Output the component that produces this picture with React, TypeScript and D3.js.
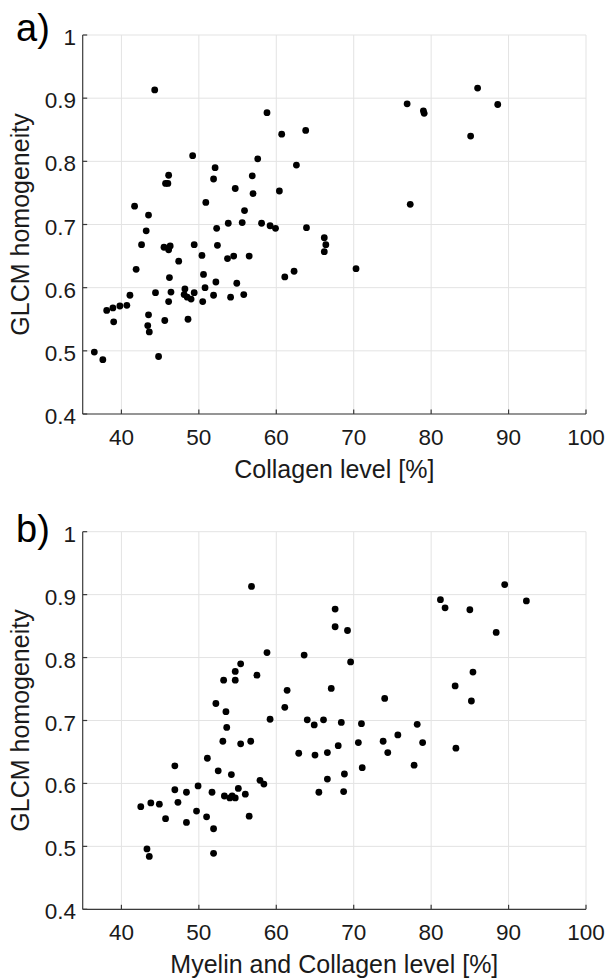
import React from 'react';
import * as d3 from 'd3';

// panel a: collagen level vs GLCM homogeneity
const collagenLevel = [
  44.3, 58.8, 60.7, 63.8, 49.2, 57.6, 62.6, 52.1, 46.1, 51.9, 56.9, 45.7, 46.0, 54.7,
  60.4, 57.0, 41.7, 50.9, 43.5, 55.9, 43.2, 53.8, 55.6, 58.1, 59.2, 59.9, 63.9, 52.3,
  42.6, 45.5, 46.3, 46.1, 49.4, 52.4, 47.4, 50.4, 53.7, 54.5, 56.5, 41.9, 46.2, 50.6,
  52.2, 54.9, 61.1, 62.3, 50.8, 41.1, 44.4, 46.4, 48.2, 48.1, 48.5, 49.0, 49.4, 51.9,
  54.1, 55.8, 50.5, 46.1, 38.1, 38.9, 39.8, 40.7, 39.0, 43.5, 43.4, 43.6, 45.6, 48.6,
  36.5, 37.6, 44.8, 66.2, 66.4, 66.2, 70.3, 76.9, 79.0, 79.1, 86.0, 88.6, 85.1, 77.3,
];
const homogeneityA = [
  0.913, 0.877, 0.843, 0.849, 0.809, 0.804, 0.794, 0.79, 0.778, 0.772, 0.777, 0.765, 0.765, 0.757,
  0.753, 0.749, 0.729, 0.735, 0.715, 0.722, 0.69, 0.702, 0.703, 0.702, 0.698, 0.694, 0.695, 0.694,
  0.668, 0.664, 0.666, 0.66, 0.668, 0.667, 0.642, 0.651, 0.646, 0.65, 0.65, 0.629, 0.616, 0.621,
  0.609, 0.607, 0.617, 0.626, 0.6, 0.588, 0.592, 0.593, 0.598, 0.589, 0.585, 0.582, 0.592, 0.588,
  0.585, 0.589, 0.578, 0.578, 0.564, 0.568, 0.571, 0.572, 0.546, 0.557, 0.54, 0.53, 0.548, 0.55,
  0.498, 0.486, 0.491, 0.679, 0.668, 0.657, 0.63, 0.891, 0.88, 0.876, 0.916, 0.89, 0.84, 0.732,
];

// panel b: myelin + collagen level vs GLCM homogeneity
const myelinCollagenLevel = [
  56.8, 58.8, 63.6, 55.4, 54.7, 53.2, 54.7, 57.5, 61.4, 61.1, 52.2, 53.5, 59.2, 64.0,
  64.9, 66.1, 53.6, 53.1, 55.4, 56.7, 62.9, 65.0, 66.6, 51.1, 46.9, 52.5, 54.2, 57.9,
  58.4, 66.6, 49.9, 46.9, 48.4, 51.7, 55.1, 56.0, 53.3, 54.0, 54.3, 54.7, 65.5, 42.5,
  43.8, 44.9, 47.3, 45.7, 48.4, 49.7, 51.0, 51.9, 56.5, 43.3, 43.6, 51.9, 89.5, 92.3,
  81.2, 81.8, 85.0, 88.4, 67.6, 67.6, 69.2, 69.6, 85.4, 83.1, 85.2, 74.0, 67.1, 68.4,
  71.0, 78.2, 75.7, 68.0, 70.6, 73.8, 78.9, 74.4, 83.2, 71.1, 77.8, 68.8, 68.7,
];
const homogeneityB = [
  0.913, 0.808, 0.804, 0.79, 0.778, 0.764, 0.764, 0.772, 0.748, 0.721, 0.727, 0.714, 0.702, 0.701,
  0.693, 0.701, 0.689, 0.667, 0.663, 0.667, 0.648, 0.645, 0.649, 0.64, 0.628, 0.62, 0.614, 0.605,
  0.599, 0.607, 0.596, 0.59, 0.586, 0.586, 0.592, 0.583, 0.58, 0.577, 0.58, 0.577, 0.586, 0.563,
  0.569, 0.567, 0.57, 0.544, 0.538, 0.556, 0.547, 0.528, 0.548, 0.496, 0.484, 0.489, 0.916, 0.89,
  0.892, 0.879, 0.876, 0.84, 0.877, 0.849, 0.843, 0.793, 0.777, 0.755, 0.731, 0.735, 0.751, 0.697,
  0.695, 0.694, 0.677, 0.66, 0.665, 0.667, 0.665, 0.649, 0.656, 0.625, 0.629, 0.615, 0.587,
];

const xTicks = [40, 50, 60, 70, 80, 90, 100];
const yTicks = [0.4, 0.5, 0.6, 0.7, 0.8, 0.9, 1];

const FONT = '"Liberation Sans", Arial, Helvetica, sans-serif';
const LEFT = 82.7;
const RIGHT = 586;
const TEXT = '#1a1a1a';

type PanelProps = {
  tag: string;
  tagY: number;
  xs: number[];
  ys: number[];
  top: number;
  bottom: number;
  xLabel: string;
};

const Panel = ({ tag, tagY, xs, ys, top, bottom, xLabel }: PanelProps) => {
  const x = d3.scaleLinear().domain([35, 100]).range([LEFT, RIGHT]);
  const y = d3.scaleLinear().domain([0.4, 1]).range([bottom, top]);
  const fmt = d3.format('~g');

  return (
    <g>
      {/* grid */}
      {xTicks.map((t) => (
        <line key={'gx' + t} x1={x(t)} x2={x(t)} y1={top} y2={bottom} stroke="#e3e3e3" strokeWidth={1} />
      ))}
      {yTicks.map((t) => (
        <line key={'gy' + t} x1={LEFT} x2={RIGHT} y1={y(t)} y2={y(t)} stroke="#e3e3e3" strokeWidth={1} />
      ))}

      {/* axes */}
      <line x1={LEFT} x2={RIGHT} y1={bottom} y2={bottom} stroke="#3a3a3a" strokeWidth={1.2} />
      <line x1={LEFT} x2={LEFT} y1={top} y2={bottom} stroke="#3a3a3a" strokeWidth={1.2} />
      {xTicks.map((t) => (
        <line key={'tx' + t} x1={x(t)} x2={x(t)} y1={bottom} y2={bottom - 4.5} stroke="#3a3a3a" strokeWidth={1.2} />
      ))}
      {yTicks.map((t) => (
        <line key={'ty' + t} x1={LEFT} x2={LEFT + 4.5} y1={y(t)} y2={y(t)} stroke="#3a3a3a" strokeWidth={1.2} />
      ))}

      {/* tick labels */}
      {xTicks.map((t) => (
        <text key={'lx' + t} x={x(t)} y={bottom + 31} textAnchor="middle" fontSize={22.5} fill={TEXT}>
          {t}
        </text>
      ))}
      {yTicks.map((t) => (
        <text key={'ly' + t} x={76} y={y(t) + 10} textAnchor="end" fontSize={22.5} fill={TEXT}>
          {fmt(t)}
        </text>
      ))}

      {/* points */}
      {xs.map((v, i) => (
        <circle key={i} cx={x(v)} cy={y(ys[i])} r={3.4} fill="#000" />
      ))}

      {/* labels */}
      <text x={(LEFT + RIGHT) / 2} y={bottom + 64} textAnchor="middle" fontSize={25} fill={TEXT}>
        {xLabel}
      </text>
      <text
        transform={`translate(29, ${(top + bottom) / 2}) rotate(-90)`}
        textAnchor="middle"
        fontSize={25}
        fill={TEXT}
      >
        GLCM homogeneity
      </text>
      <text x={16} y={tagY} fontSize={38} fill="#000">
        {tag}
      </text>
    </g>
  );
};

export default function App() {
  return (
    <svg
      width={608}
      height={980}
      style={{ position: 'absolute', left: 0, top: 0, background: '#fff', fontFamily: FONT }}
    >
      <rect width={608} height={980} fill="#fff" />
      <Panel tag="a)" tagY={41} xs={collagenLevel} ys={homogeneityA} top={35} bottom={414} xLabel="Collagen level [%]" />
      <Panel
        tag="b)"
        tagY={542}
        xs={myelinCollagenLevel}
        ys={homogeneityB}
        top={531.7}
        bottom={909.3}
        xLabel="Myelin and Collagen level [%]"
      />
    </svg>
  );
}
